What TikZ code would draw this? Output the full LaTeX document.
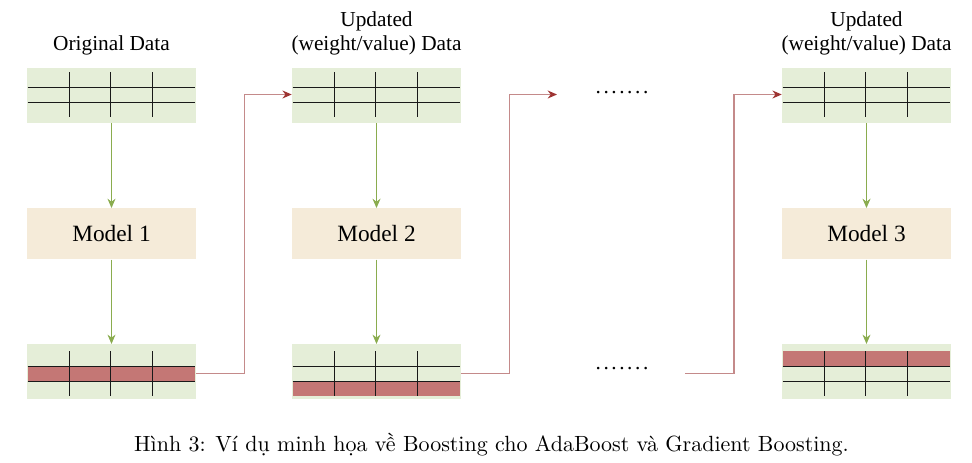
\documentclass[tikz,border=0pt]{standalone}
\usepackage{fontspec}
\setmainfont{Liberation Serif}
\newfontfamily\capfont{lmroman10-regular.otf}
\newfontfamily\dotfont[LetterSpace=12]{Liberation Serif}
\usetikzlibrary{arrows.meta,positioning}

\definecolor{tblfill}{RGB}{229,238,216}
\definecolor{rowred}{RGB}{196,119,117}
\definecolor{modelfill}{RGB}{245,235,217}
\definecolor{flowgreen}{RGB}{138,172,78}
\definecolor{linkred}{RGB}{196,138,138}
\definecolor{tipred}{RGB}{158,52,50}

\begin{document}
\begin{tikzpicture}[x=0.75pt, y=-0.75pt,
    tbl/.style={fill=tblfill, minimum width=126.75pt, minimum height=41.25pt, inner sep=0pt},
    model/.style={fill=modelfill, minimum width=126.75pt, minimum height=38.25pt, inner sep=0pt,
        font=\fontsize{17.5pt}{21pt}\selectfont},
    lbl/.style={align=center, anchor=base, font=\fontsize{16pt}{18pt}\selectfont},
    grid/.style={draw=black!90, line width=1.1pt},
    flow/.style={draw=flowgreen, line width=0.7pt, -{Stealth[length=7pt, width=6pt]}},
    link/.style={draw=linkred, line width=1pt, -{Stealth[length=7pt, width=6pt, color=tipred]}},
    dots/.style={font=\dotfont\fontsize{16pt}{18pt}\selectfont}]
    \useasboundingbox (0,0) rectangle (972,463);

    % Draw data tables: name/x/y/grid offset/red row
    \foreach \n/\cx/\cy/\g/\band in {d1/111.5/95.5/4.7/-1, d2/376.5/95.5/4.7/-1, d3/866.5/95.5/4.7/-1,
                                    r1/111.5/371.7/7.4/1, r2/376.5/371.7/7.4/2, r3/866.5/371.7/7.4/0} {
        \node[tbl] (\n) at (\cx,\cy) {};
        \begin{scope}[shift={(\n.north west)}]
            \ifnum\band>-1
                \fill[rowred] (1,\g+15*\band) rectangle (168,\g+15*\band+15);
            \fi
            \draw[grid] (1,\g+15) -- (168,\g+15);
            \draw[grid] (1,\g+30) -- (168,\g+30);
            \foreach \vx in {42.7,84,126}
                \draw[grid] (\vx,\g) -- (\vx,\g+45);
        \end{scope}
    }

    % Draw models
    \node[model] (m1) at (111.5,233.8) {Model 1};
    \node[model] (m2) at (376.5,233.8) {Model 2};
    \node[model] (m3) at (866.5,233.8) {Model 3};

    % Draw titles
    \node[lbl] (t1) at (111.5,50.5) {Original Data};
    \node[lbl] (t2) at (376.5,50.5) {Updated\\(weight/value) Data};
    \node[lbl] (t3) at (866.5,50.5) {Updated\\(weight/value) Data};

    % Draw continuation dots
    \node[dots] (dt) at (622,93) {.......};
    \node[dots] (db) at (622,369) {.......};
    \coordinate (gin) at (557,94.5);
    \coordinate (gout) at (685,373.7);

    % Draw flow arrows
    \draw[flow] (d1) -- (m1);
    \draw[flow] (m1) -- (r1);
    \draw[flow] (d2) -- (m2);
    \draw[flow] (m2) -- (r2);
    \draw[flow] (d3) -- (m3);
    \draw[flow] (m3) -- (r3);

    % Draw links to next round
    \draw[link] ([yshift=-1.5pt]r1.east) -- ++(48,0) |- ([yshift=0.75pt]d2.west);
    \draw[link] ([yshift=-1.5pt]r2.east) -- ++(48,0) |- (gin);
    \draw[link] (gout) -- ++(49,0) |- ([yshift=0.75pt]d3.west);

    % Draw caption
    \node[anchor=base, font=\capfont\fontsize{16.5pt}{20pt}\selectfont] (cap) at (491.5,451.5)
        {Hình 3: Ví dụ minh họa về Boosting cho AdaBoost và Gradient Boosting.};
\end{tikzpicture}
\end{document}
